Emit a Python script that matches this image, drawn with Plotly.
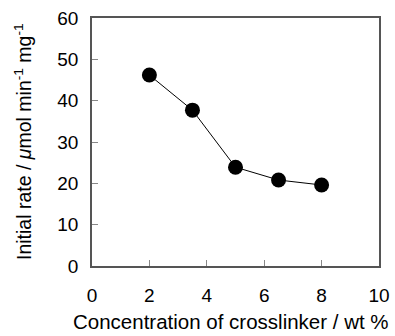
import plotly.graph_objects as go

concentration = [2, 3.5, 5, 6.5, 8]
initial_rate = [46.2, 37.7, 23.9, 20.8, 19.6]

x_title = "Concentration of crosslinker / wt %"
y_title = "Initial rate / <i>μ</i>mol min<sup>-1</sup> mg<sup>-1</sup>"

FONT = "Liberation Sans, Arial, sans-serif"

fig = go.Figure()
fig.add_trace(go.Scatter(
    x=concentration, y=initial_rate, mode="lines+markers",
    line=dict(color="black", width=1),
    marker=dict(color="black", size=15),
    showlegend=False,
))

axis_common = dict(
    showgrid=False, zeroline=False, showline=True, mirror=True,
    linecolor="#555555", linewidth=1.5, automargin=False,
    ticks="inside", ticklen=6, tickcolor="#888888", tickwidth=1,
    tickfont=dict(family=FONT, size=19, color="black"),
)

fig.update_layout(
    width=395, height=336,
    margin=dict(l=92, r=16, t=18, b=70, autoexpand=False),
    paper_bgcolor="white", plot_bgcolor="white",
    font=dict(family=FONT, color="black"),
    xaxis=dict(range=[0, 10], dtick=2, ticklabelstandoff=11, **axis_common),
    yaxis=dict(range=[0, 60], dtick=10, ticklabelstandoff=8, **axis_common),
)

fig.add_annotation(text=x_title, xref="paper", yref="paper", x=0.5, y=0,
                   xanchor="center", yanchor="middle", yshift=-55, xshift=-5,
                   showarrow=False, font=dict(family=FONT, size=20.5, color="black"))
fig.add_annotation(text=y_title, xref="paper", yref="paper", x=0, y=0.5,
                   xanchor="center", yanchor="middle", xshift=-69, textangle=-90,
                   showarrow=False, font=dict(family=FONT, size=19.5, color="black"))

fig.write_html("out.html", config={"displayModeBar": False},
               post_script="document.body.style.margin='0';document.body.style.padding='0';")
